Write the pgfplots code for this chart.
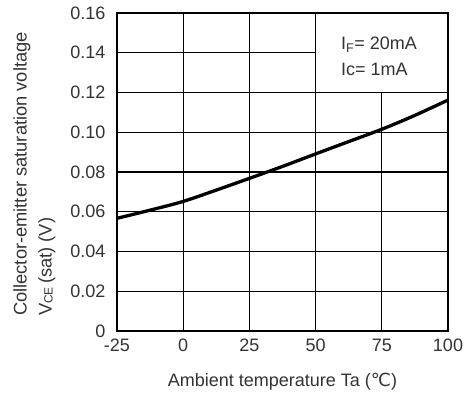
\documentclass[border=0pt]{standalone}
\usepackage{fontspec}
\setmainfont{Liberation Sans}
\newfontfamily\dv{DejaVu Sans}
\usepackage{pgfplots}
\pgfplotsset{compat=1.18}
\begin{document}
\begin{tikzpicture}
\begin{axis}[
  scale only axis,
  width=331pt, height=318pt,
  xmin=-25, xmax=100, ymin=0, ymax=0.16,
  xtick={-25,0,25,50,75,100},
  xticklabels={-25,0,25,50,75,100},
  ytick={0,0.02,0.04,0.06,0.08,0.10,0.12,0.14,0.16},
  yticklabels={0,0.02,0.04,0.06,0.08,0.10,0.12,0.14,0.16},
  major tick length=0pt,
  axis line style={black, line width=1.2pt},
  tick label style={font=\fontsize{18pt}{20pt}\selectfont, text=black!80},
  xticklabel style={anchor=center, yshift=-14pt},
  yticklabel style={anchor=east, xshift=-8pt},
  clip=false,
]
% grid lines
\pgfplotsinvokeforeach{0.02,0.04,0.06,0.08,0.10,0.12}{
  \draw[black, line width=1.2pt] (axis cs:-25,#1) -- (axis cs:100,#1);
}
\draw[black, line width=1.2pt] (axis cs:-25,0.14) -- (axis cs:50,0.14);
\draw[black, line width=1.2pt] (axis cs:0,0) -- (axis cs:0,0.16);
\draw[black, line width=1.2pt] (axis cs:25,0) -- (axis cs:25,0.16);
\draw[black, line width=1.2pt] (axis cs:50,0) -- (axis cs:50,0.16);
\draw[black, line width=1.2pt] (axis cs:75,0) -- (axis cs:75,0.12);
\addplot[black, line width=3.3pt, smooth] coordinates {
  (-25,0.0567) (-12.5,0.0608) (0,0.0652) (12.5,0.0709) (25,0.0768) (37.5,0.0828)
  (50,0.0891) (62.5,0.0953) (75,0.1015) (87.5,0.1085) (100,0.1162)
};
\node[anchor=west, text=black!80, inner sep=0pt, font=\fontsize{18pt}{20pt}\selectfont]
  at (rel axis cs:0.6767,0.9) {I\textsubscript{F}= 20mA};
\node[anchor=west, text=black!80, inner sep=0pt, font=\fontsize{18pt}{20pt}\selectfont]
  at (rel axis cs:0.6767,0.8214) {Ic= 1mA};
% axis labels
\node[anchor=center, text=black!80, inner sep=0pt, font=\fontsize{18pt}{20pt}\selectfont,
  yshift=-51pt]
  at (rel axis cs:0.5,0) {Ambient temperature Ta ({\dv ℃})};
\node[xshift=-82.5pt, yshift=157pt, anchor=center, rotate=90, align=left, text=black!80,
  inner sep=0pt, font=\fontsize{18.3pt}{25pt}\selectfont]
  at (rel axis cs:0,0)
  {Collector-emitter saturation voltage\\V\raisebox{-1pt}{\fontsize{12pt}{12pt}\selectfont CE}\,(sat) (V)};
\end{axis}
\pgfresetboundingbox
\path (current axis.south west) ++(-117pt,-67pt) rectangle ++(468pt,398pt);
\end{tikzpicture}
\end{document}
